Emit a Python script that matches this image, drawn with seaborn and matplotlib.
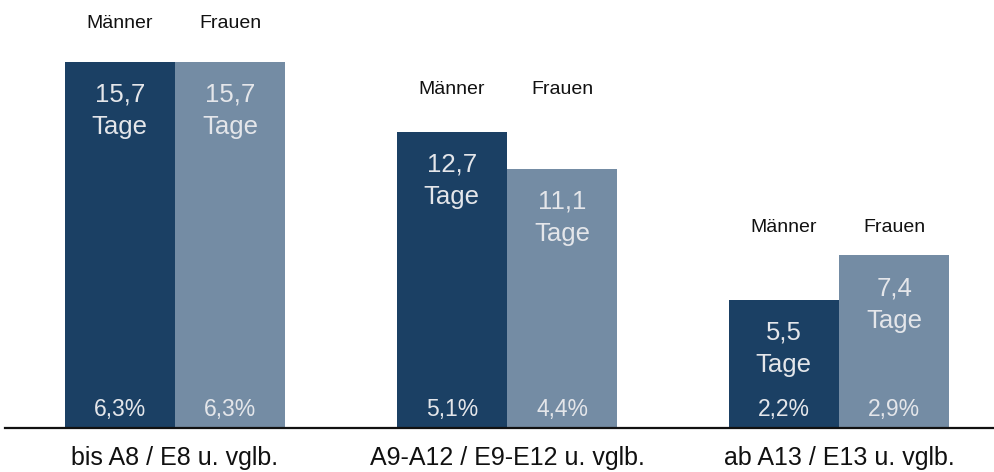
import matplotlib
matplotlib.use("Agg")
import matplotlib.pyplot as plt
import seaborn as sns
import pandas as pd

# Fehltage je Beschäftigten nach Besoldungs-/Entgeltgruppe
groups = ["bis A8 / E8 u. vglb.", "A9-A12 / E9-E12 u. vglb.", "ab A13 / E13 u. vglb."]
sexes = ["Männer", "Frauen"]
tage_maenner = [15.7, 12.7, 5.5]
tage_frauen = [15.7, 11.1, 7.4]
quote_maenner = [6.3, 5.1, 2.2]
quote_frauen = [6.3, 4.4, 2.9]

colors = {"Männer": "#1b4064", "Frauen": "#748ca4"}
text_color = "#e4e6ea"
# Abstand der Geschlechterbeschriftung über dem höheren Balken (in Tagen)
header_gap = [1.65, 1.8, 1.22]

rows = []
for g, tm, tf, qm, qf in zip(groups, tage_maenner, tage_frauen, quote_maenner, quote_frauen):
    rows.append({"Gruppe": g, "Geschlecht": "Männer", "Tage": tm, "Quote": qm})
    rows.append({"Gruppe": g, "Geschlecht": "Frauen", "Tage": tf, "Quote": qf})
df = pd.DataFrame(rows)

sns.set_theme(style="white")
plt.rcParams["font.family"] = ["Liberation Sans", "DejaVu Sans"]

fig = plt.figure(figsize=(9.94, 4.72), dpi=100)
ax = fig.add_axes([5 / 994, 44 / 472, 989 / 994, 428 / 472])

sns.barplot(data=df, x="Gruppe", y="Tage", hue="Geschlecht", order=groups,
            hue_order=sexes, palette=colors, width=0.664, saturation=1,
            edgecolor="none", linewidth=0, legend=False, ax=ax)

ax.set_xlim(-0.512, 2.467)
ax.set_ylim(0, 18.36)

def fmt(v, nd=1):
    return f"{v:.{nd}f}".replace(".", ",")

for container, sex in zip(ax.containers, sexes):
    sub = df[df["Geschlecht"] == sex].set_index("Gruppe").loc[groups]
    for bar, (_, r) in zip(container, sub.iterrows()):
        cx = bar.get_x() + bar.get_width() / 2
        h = bar.get_height()
        ax.text(cx, h - 2.1, f"{fmt(r['Tage'])}\nTage", ha="center", va="center",
                color=text_color, fontsize=18.5, linespacing=1.45)
        ax.text(cx, 0.78, f"{fmt(r['Quote'])}%", ha="center", va="center",
                color=text_color, fontsize=16.5)

# Geschlechterbeschriftung über jeder Gruppe
for i, (tm, tf) in enumerate(zip(tage_maenner, tage_frauen)):
    top = max(tm, tf)
    for container, sex in zip(ax.containers, sexes):
        bar = container[i]
        cx = bar.get_x() + bar.get_width() / 2
        ax.text(cx, top + header_gap[i], sex, ha="center", va="center",
                color="#111111", fontsize=14)

ax.set_xlabel("")
ax.set_ylabel("")
ax.set_yticks([])
ax.set_xticks(range(len(groups)))
ax.set_xticklabels(groups, fontsize=18, color="#111111")
ax.tick_params(axis="x", length=0, pad=13)
for side in ["top", "right", "left"]:
    ax.spines[side].set_visible(False)
ax.spines["bottom"].set_color("#111111")
ax.spines["bottom"].set_linewidth(1.6)
ax.patch.set_alpha(0)

fig.savefig("out.png", dpi=100, facecolor="white")
